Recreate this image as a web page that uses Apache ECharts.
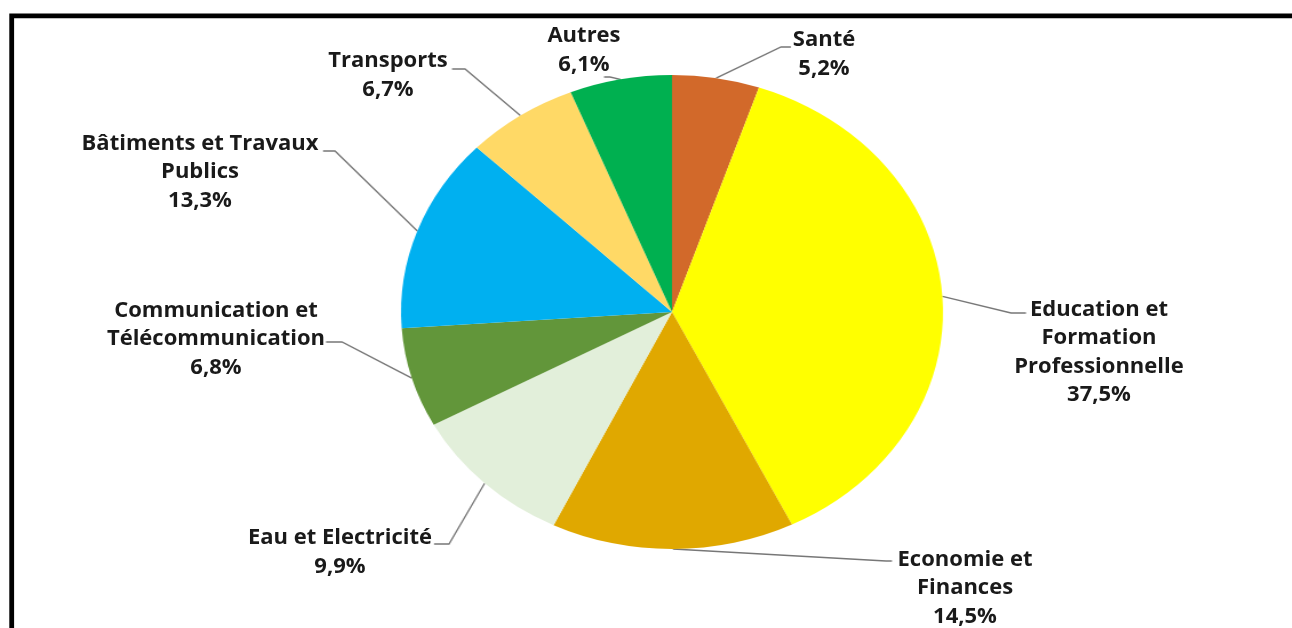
<!DOCTYPE html>
<html><head><meta charset="utf-8">
<script src="https://cdn.jsdelivr.net/npm/echarts@6/dist/echarts.min.js"></script>
<style>
html,body{margin:0;padding:0;width:1292px;height:628px;overflow:hidden;background:#fff;}
#pie,#txt{position:absolute;left:0;top:0;width:1292px;height:628px;}
</style></head><body>
<div id="pie"></div><div id="txt"></div>
<script>
// ---- data ----
const categories = ['Santé', 'Education et\nFormation\nProfessionnelle', 'Economie et\nFinances', 'Eau et Electricité',
  'Communication et\nTélécommunication', 'Bâtiments et Travaux\nPublics', 'Transports', 'Autres'];
const values = [5.2, 37.5, 14.5, 9.9, 6.8, 13.3, 6.7, 6.1];
const colors = ['#D2692A', '#FFFF00', '#E0A800', '#E2EFDA', '#62963A', '#00B0F0', '#FFD966', '#00B050'];

// ---- layout (screen px) ----
const CX = 672, CY = 312, RX = 271, RY = 237;
const SX = RX / RY; // horizontal stretch of the pie (elliptical look)
const labelCenters = [[824,54],[1099,352],[965,588],[340,552],[216,339],[200,172],[388,75],[584,50]];
const lineEnds = [[791,47],[1026,313],[892,561],[434,544],[326,342],[323,151],[452,69],[604,77]];
const stubs = [10,15,6,15,16,12,13,6];

function toA(x) { return CX + (x - CX) / SX; }
function fmt(v) { return v.toFixed(1).replace('.', ',') + '%'; }
const pieData = values.map((v, i) => ({ name: categories[i], value: v }));

document.getElementById('pie').style.transformOrigin = CX + 'px ' + CY + 'px';
document.getElementById('pie').style.transform = 'scaleX(' + SX + ')';

const chartA = echarts.init(document.getElementById('pie'));
chartA.setOption({
  animation: false,
  color: colors,
  series: [{
    type: 'pie', center: [CX, CY], radius: RY, startAngle: 90, clockwise: true,
    silent: true, avoidLabelOverlap: false,
    data: pieData,
    itemStyle: { borderWidth: 0 },
    label: { show: true, position: 'outside', formatter: '.', color: 'rgba(0,0,0,0)', fontSize: 8 },
    labelLine: { show: true, length: 10, length2: 10, smooth: false, lineStyle: { color: '#777', width: 1.3 } },
    labelLayout: function (p) {
      const i = p.dataIndex;
      const ex = toA(lineEnds[i][0]), ey = lineEnds[i][1];
      const res = { x: ex, y: ey, align: 'center', verticalAlign: 'middle' };
      const pts = p.labelLinePoints;
      if (pts && pts.length) {
        const ax = pts[0][0], ay = pts[0][1];
        const dir = ax > ex ? 1 : -1;
        res.labelLinePoints = [[ax, ay], [ex + dir * stubs[i] / SX, ey], [ex, ey]];
      }
      return res;
    },
    emphasis: { disabled: true }
  }]
});

const chartB = echarts.init(document.getElementById('txt'));
chartB.setOption({
  animation: false,
  series: [{
    type: 'pie', center: [CX, CY], radius: RY, startAngle: 90, clockwise: true,
    silent: true, avoidLabelOverlap: false,
    data: pieData,
    itemStyle: { color: 'rgba(0,0,0,0)' },
    label: {
      show: true, position: 'outside',
      formatter: p => p.name + '\n' + fmt(p.value),
      fontFamily: 'Open Sans', fontWeight: 'bold', fontSize: 22, lineHeight: 28.5,
      color: '#1a1a1a', align: 'center'
    },
    labelLine: { show: false },
    labelLayout: p => ({ x: labelCenters[p.dataIndex][0], y: labelCenters[p.dataIndex][1], align: 'center', verticalAlign: 'middle' }),
    emphasis: { disabled: true }
  }],
  graphic: [{
    type: 'rect', silent: true, z: 100,
    shape: { x: 11.7, y: 15.8, width: 1500, height: 900 },
    style: { fill: 'none', stroke: '#000', lineWidth: 4.8 }
  }]
});
</script>
</body></html>
